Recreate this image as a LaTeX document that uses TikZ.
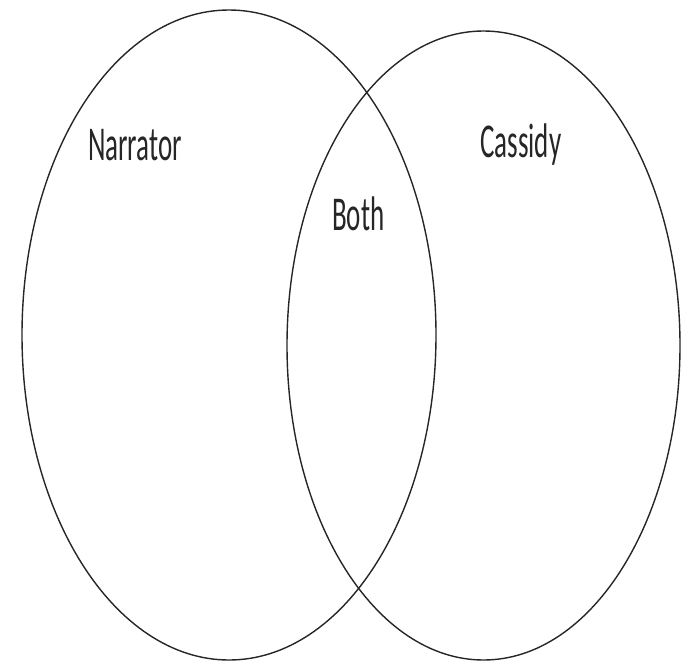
\documentclass[tikz,border=0pt]{standalone}
\usepackage{fontspec}
\setmainfont{Carlito}
\begin{document}
\begin{tikzpicture}[x=1pt,y=1pt,
  setline/.style={line width=1.4pt,draw=black!85},
  lbl/.style={anchor=base west,inner sep=0pt,font=\fontsize{27}{30}\selectfont,text=black!85}]
\useasboundingbox (0,0) rectangle (683,-662);
\draw[setline] (229,-335) ellipse [x radius=207, y radius=325];
\draw[setline] (483.5,-345.5) ellipse [x radius=196.5, y radius=314.5];
\node[lbl] (narrator) at (88,-160) {\scalebox{1}[1.8]{Narrator}};
\node[lbl] (cassidy) at (480,-157) {\scalebox{1}[1.8]{Cassidy}};
\node[lbl] (both) at (332,-230) {\scalebox{1}[1.8]{Both}};
\end{tikzpicture}
\end{document}
